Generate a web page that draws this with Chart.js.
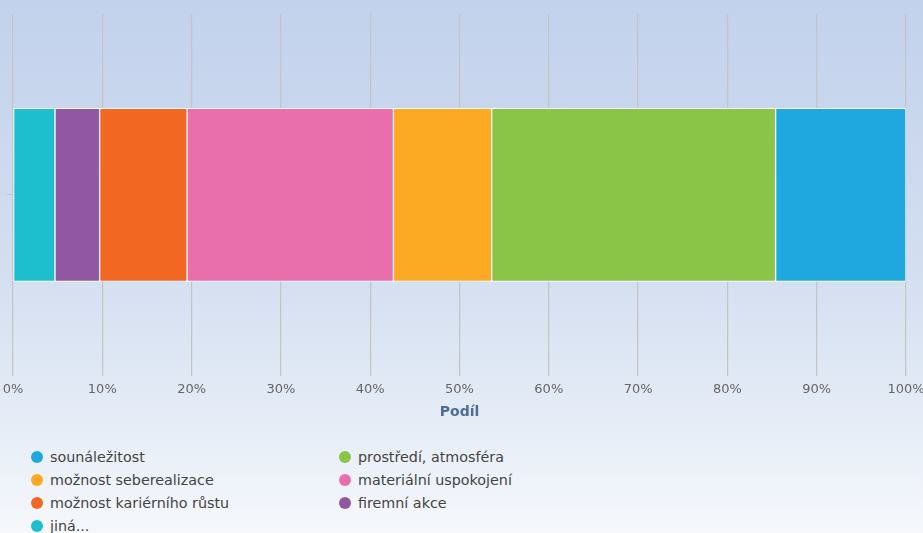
<!DOCTYPE html>
<html>
<head>
<meta charset="utf-8">
<script src="https://cdn.jsdelivr.net/npm/chart.js@4/dist/chart.umd.min.js"></script>
<style>
  html, body { margin: 0; padding: 0; }
  body {
    width: 923px; height: 533px; overflow: hidden;
    background: linear-gradient(to bottom, #c2d2ec 0%, #d3def0 50%, #e6edf7 80%, #f6f8fc 100%);
    font-family: "DejaVu Sans", sans-serif;
    position: relative;
  }
  #wrap { position: absolute; left: 0; top: 0; width: 923px; height: 425px; }
  #legend { position: absolute; left: 30px; top: 447px; width: 700px; }
  .item { position: absolute; font-size: 14.3px; color: #444; white-space: nowrap; line-height: 20px; }
  .dot { display: inline-block; width: 12px; height: 12px; border-radius: 50%; vertical-align: -1px; margin-right: 7px; }
</style>
</head>
<body>
<div id="wrap"><canvas id="chart"></canvas></div>
<div id="legend"></div>
<script>
// stacking order, left to right
const categories = [""];
const seriesNames = ["jiná...", "firemní akce", "možnost kariérního růstu", "materiální uspokojení",
                     "možnost seberealizace", "prostředí, atmosféra", "sounáležitost"];
const seriesValues = [4.7, 5.0, 9.8, 23.1, 11.0, 31.8, 14.6];
const seriesColors = ["#1dbfcf", "#9157a3", "#f26722", "#e86fab", "#fca924", "#8bc548", "#1fa8e0"];
const tickLabels = ["0%", "10%", "20%", "30%", "40%", "50%", "60%", "70%", "80%", "90%", "100%"];
const axisTitle = "Podíl";

const $ = (sel, root=document) => root.querySelector(sel);

const datasets = seriesNames.map((name, i) => ({
  label: name,
  data: [seriesValues[i]],
  backgroundColor: seriesColors[i],
  borderColor: "#ffffff",
  borderWidth: 1,
  borderSkipped: false,
  barThickness: 173,
}));

const chart = new Chart($("#chart"), {
  type: "bar",
  data: { labels: categories, datasets },
  options: {
    indexAxis: "y",
    responsive: true,
    maintainAspectRatio: false,
    animation: false,
    layout: { padding: { top: 14, left: 0, right: 17, bottom: 4 } },
    plugins: { legend: { display: false }, tooltip: { enabled: false } },
    scales: {
      x: {
        stacked: true,
        min: 0, max: 100,
        grid: { color: "#c4c4c4", tickLength: 0, lineWidth: 1.2 },
        border: { display: false },
        ticks: {
          stepSize: 10,
          padding: 6,
          color: "#666",
          font: { family: "DejaVu Sans", size: 13 },
          callback: (v, i) => tickLabels[i],
        },
        title: {
          display: true, text: axisTitle, color: "#4a6d99",
          font: { family: "DejaVu Sans", size: 14, weight: "bold" },
          padding: { top: 1, bottom: 0 },
        },
        afterFit: (scale) => { scale.paddingLeft = 0; scale.paddingRight = 0; },
      },
      y: {
        stacked: true,
        grid: { drawOnChartArea: false, offset: false, tickLength: 6, color: "#c4c4c4" },
        border: { display: false },
        ticks: { display: false },
        afterFit: (scale) => { scale.width = 13; },
      },
    },
  },
});

// legend in two columns, same order as the reference
const legendOrder = [6, 5, 4, 3, 2, 1, 0];
const legend = $("#legend");
legendOrder.forEach((idx, k) => {
  const el = document.createElement("div");
  el.className = "item";
  el.style.left = (k % 2 === 0 ? 1 : 309) + "px";
  el.style.top = (Math.floor(k / 2) * 23) + "px";
  el.innerHTML = `<span class="dot" style="background:${seriesColors[idx]}"></span>${seriesNames[idx]}`;
  legend.appendChild(el);
});
</script>
</body>
</html>
